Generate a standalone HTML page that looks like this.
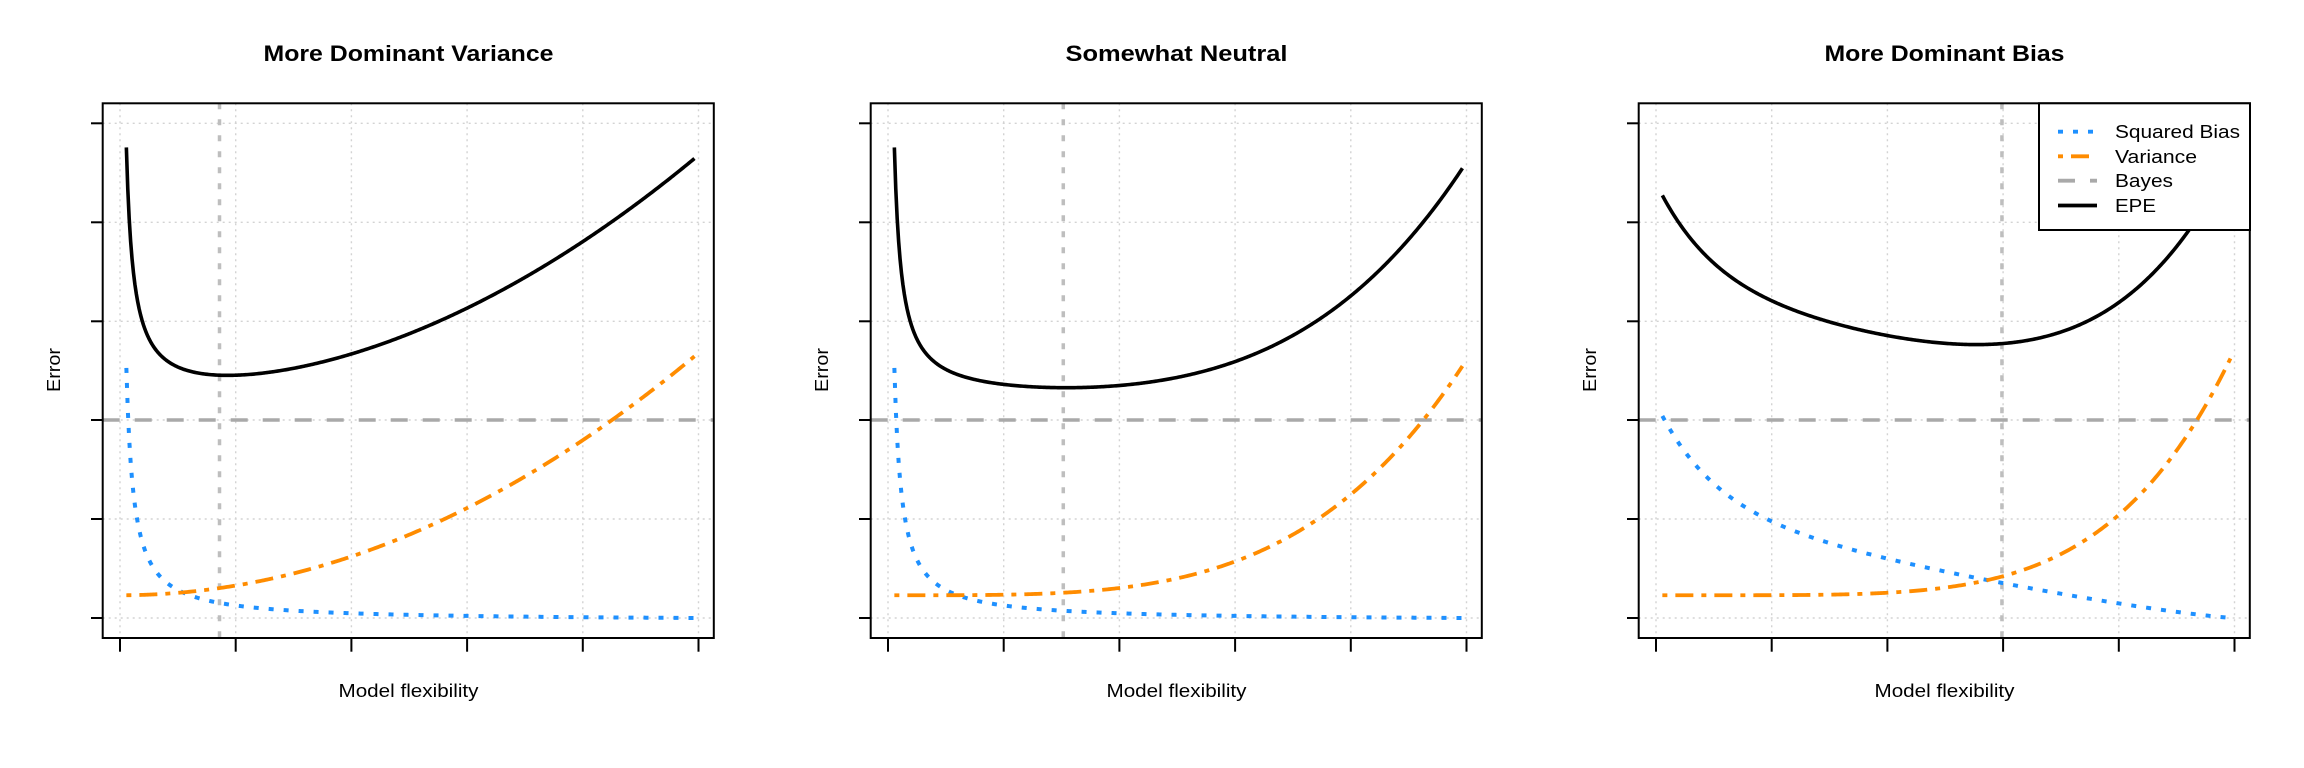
<!DOCTYPE html>
<html><head><meta charset="utf-8"><style>
html,body{margin:0;padding:0;background:#fff;}
svg{display:block;font-family:"Liberation Sans",sans-serif;}
</style></head><body>
<svg id="s" width="2304" height="768" xmlns="http://www.w3.org/2000/svg"></svg>
<script>
var s=document.getElementById('s');var h='';
function X(o,t){return o+120+578.5*t;}
function Y(u){return 618-98.9*u;}
function b12(t){return 0.032/(t+0.0015)-0.032/1.0015;}
function b3(t){return 1.10*Math.pow(1-t,1.25)+1.07*Math.exp(-10*t)-1.07*Math.exp(-10);}
function v3(t){return 0.23+2.48*Math.pow(t,5.0);}
var P=[
 {title:'More Dominant Variance',tw:290,vl:0.172,b:b12,v:function(t){return 0.23+2.45*t*t;}},
 {title:'Somewhat Neutral',tw:222,vl:0.303,b:b12,v:function(t){return 0.23+2.38*Math.pow(t,3.8);}},
 {title:'More Dominant Bias',tw:240,vl:0.598,b:b3,v:v3}
];
function path(o,f){var d='';for(var i=0;i<=400;i++){var t=0.011+(0.993-0.011)*i/400;d+=(i?'L':'M')+X(o,t).toFixed(2)+' '+Y(f(t)).toFixed(2);}return d;}
var ty=[123.3,222.3,321.3,420,519,618];
P.forEach(function(p,k){
 var o=768*k;
 for(var i=0;i<6;i++){var x=X(o,i/5);h+='<line x1="'+x+'" y1="103.3" x2="'+x+'" y2="638" stroke="#d3d3d3" stroke-width="1.4" stroke-dasharray="2 4"/>';
  h+='<line x1="'+(o+102.7)+'" y1="'+ty[i]+'" x2="'+(o+713.8)+'" y2="'+ty[i]+'" stroke="#d3d3d3" stroke-width="1.4" stroke-dasharray="2 4"/>';}
 var vx=X(o,p.vl);
 h+='<line x1="'+vx+'" y1="103.3" x2="'+vx+'" y2="638" stroke="#bebebe" stroke-width="3.5" stroke-dasharray="6 10"/>';
 h+='<line x1="'+(o+102.7)+'" y1="420" x2="'+(o+713.8)+'" y2="420" stroke="#a9a9a9" stroke-width="3.5" stroke-dasharray="17 15"/>';
 h+='<path d="'+path(o,p.b)+'" fill="none" stroke="#1e90ff" stroke-width="4" stroke-dasharray="5 10"/>';
 h+='<path d="'+path(o,p.v)+'" fill="none" stroke="#ff8c00" stroke-width="3.8" stroke-dasharray="5 8 18 8"/>';
 h+='<path d="'+path(o,function(t){return p.b(t)+p.v(t)+2;})+'" fill="none" stroke="#000" stroke-width="3.6" stroke-linejoin="round"/>';
 h+='<rect x="'+(o+102.7)+'" y="103.3" width="611.1" height="534.7" fill="none" stroke="#000" stroke-width="2"/>';
 for(var i=0;i<6;i++){var x=X(o,i/5);h+='<line x1="'+x+'" y1="638" x2="'+x+'" y2="651.7" stroke="#000" stroke-width="2"/>';
  h+='<line x1="'+(o+91)+'" y1="'+ty[i]+'" x2="'+(o+102.7)+'" y2="'+ty[i]+'" stroke="#000" stroke-width="2"/>';}
 h+='<text x="'+(o+408.5)+'" y="61" font-size="22" font-weight="bold" text-anchor="middle" textLength="'+p.tw+'" lengthAdjust="spacingAndGlyphs">'+p.title+'</text>';
 h+='<text x="'+(o+408.5)+'" y="697" font-size="18" text-anchor="middle" textLength="140" lengthAdjust="spacingAndGlyphs">Model flexibility</text>';
 h+='<text transform="translate('+(o+60)+',370) rotate(-90)" font-size="18" text-anchor="middle" textLength="44" lengthAdjust="spacingAndGlyphs">Error</text>';
});
h+='<rect x="2039" y="103.3" width="211" height="126.7" fill="#fff" stroke="#000" stroke-width="2"/>';
var L=[['Squared Bias',125,'#1e90ff','5 10'],['Variance',82,'#ff8c00','5 8 18 8'],['Bayes',58,'#a9a9a9','17 15'],['EPE',41,'#000','none']];
var ly=[131.7,156.3,180.7,205.5];
L.forEach(function(l,i){
 h+='<line x1="2058" y1="'+ly[i]+'" x2="2097" y2="'+ly[i]+'" stroke="'+l[2]+'" stroke-width="3.8" stroke-dasharray="'+l[3]+'"/>';
 h+='<text x="2115" y="'+(ly[i]+6.5)+'" font-size="18" textLength="'+l[1]+'" lengthAdjust="spacingAndGlyphs">'+l[0]+'</text>';
});
s.innerHTML=h;
</script>
</body></html>
